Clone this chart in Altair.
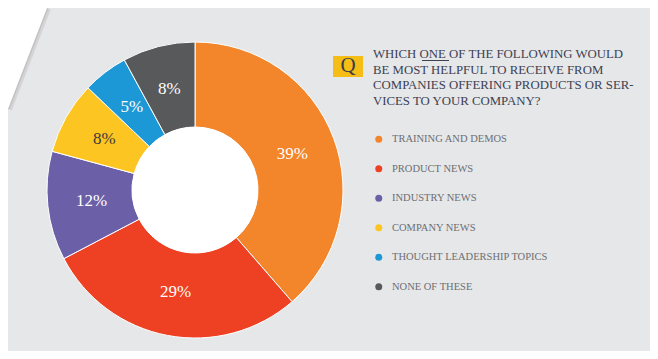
import altair as alt
import pandas as pd

categories = ["TRAINING AND DEMOS", "PRODUCT NEWS", "INDUSTRY NEWS",
              "COMPANY NEWS", "THOUGHT LEADERSHIP TOPICS", "NONE OF THESE"]
values = [39, 29, 12, 8, 5, 8]
labels = ["39%", "29%", "12%", "8%", "5%", "8%"]
colors = ["#f3852a", "#ee4023", "#6b5fa8", "#fdc521", "#1d98d6", "#58595b"]
label_colors = ["#ffffff", "#ffffff", "#ffffff", "#3b3b3b", "#ffffff", "#ffffff"]
question_lines = ["WHICH ONE OF THE FOLLOWING WOULD",
                  "BE MOST HELPFUL TO RECEIVE FROM",
                  "COMPANIES OFFERING PRODUCTS OR SER-",
                  "VICES TO YOUR COMPANY?"]

SERIF = "Liberation Serif"
W, H = 642, 343
CX, CY = 187, 182
R_OUT, R_IN = 148, 63

df = pd.DataFrame({"category": categories, "value": values, "label": labels,
                   "idx": list(range(len(categories))), "tcolor": label_colors})
one = pd.DataFrame({"a": [0]})

# decorative white corner with soft shadow
tri = pd.DataFrame({"x": [0, 39], "y": [101, 0]})
shadow = alt.Chart(tri).mark_line(color="#8a8a8a", opacity=0.2, strokeWidth=8).encode(
    x=alt.X("x:Q", scale=None, axis=None), y=alt.Y("y:Q", scale=None, axis=None))
shadow2 = alt.Chart(tri).mark_line(color="#8a8a8a", opacity=0.25, strokeWidth=3).encode(
    x=alt.X("x:Q", scale=None, axis=None), y=alt.Y("y:Q", scale=None, axis=None))
corner = alt.Chart(tri).mark_area(color="#ffffff", opacity=1).encode(
    x=alt.X("x:Q", scale=None, axis=None), y=alt.Y("y:Q", scale=None, axis=None),
    y2=alt.value(0))

base = alt.Chart(df).encode(
    theta=alt.Theta("value:Q", stack=True),
    order=alt.Order("idx:Q"),
    x=alt.value(CX), y=alt.value(CY),
)

arcs = base.mark_arc(outerRadius=R_OUT, innerRadius=R_IN, stroke="#ffffff",
                     strokeWidth=1).encode(
    color=alt.Color("category:N", sort=categories,
                    scale=alt.Scale(domain=categories, range=colors),
                    legend=alt.Legend(title=None, orient="none", legendX=365.5,
                                      legendY=126, padding=0, symbolType="circle",
                                      symbolSize=49, symbolStrokeWidth=0,
                                      labelFont=SERIF, labelFontSize=10.5,
                                      labelColor="#6d6e71", labelOffset=8,
                                      rowPadding=18.5, labelLimit=400))
)

hole = alt.Chart(one).mark_arc(radius=R_IN, color="#ffffff").encode(
    theta=alt.value(0), theta2=alt.value(6.2832),
    x=alt.value(CX), y=alt.value(CY))

pct = base.mark_text(radius=104, font=SERIF, fontSize=17, align="center",
                     baseline="middle").encode(
    text="label:N", color=alt.Color("tcolor:N", scale=None))

qbox = alt.Chart(one).mark_rect(color="#f5bd16").encode(
    x=alt.value(325), x2=alt.value(355), y=alt.value(48), y2=alt.value(69))
qtext = alt.Chart(one).mark_text(text="Q", font=SERIF, fontSize=21, color="#3a3e48",
                                 align="center", baseline="middle").encode(
    x=alt.value(340), y=alt.value(58))

question = alt.Chart(one).mark_text(text=question_lines, font=SERIF, fontSize=12.8,
                                    color="#3d4152", align="left",
                                    baseline="alphabetic", lineHeight=15.6).encode(
    x=alt.value(365), y=alt.value(50.3))
underline = alt.Chart(one).mark_rule(color="#3d4152", strokeWidth=1).encode(
    x=alt.value(414), x2=alt.value(441), y=alt.value(52.5))

chart = alt.layer(shadow, shadow2, corner, arcs, hole, pct, qbox, qtext, question,
                  underline).properties(
    width=W, height=H,
    autosize=alt.AutoSizeParams(type="none"),
    padding=0,
    background="#e6e7e9",
).configure_view(stroke=None)

chart.save("out.html", embed_options={"renderer": "svg", "actions": False})
